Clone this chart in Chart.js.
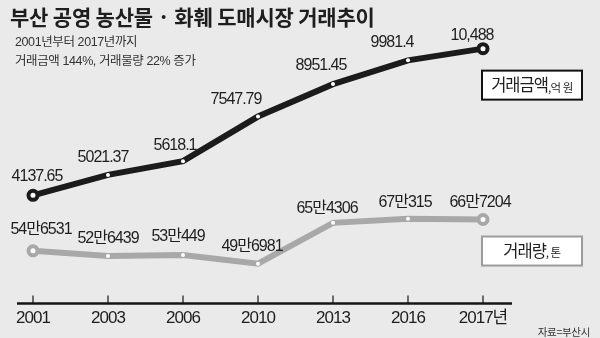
<!DOCTYPE html>
<html>
<head>
<meta charset="utf-8">
<script src="https://cdn.jsdelivr.net/npm/chart.js@4"></script>
<style>
  html, body { margin: 0; padding: 0; background: #eaeaea; }
  #wrap { position: relative; width: 600px; height: 338px; overflow: hidden; }
  #chart { position: absolute; left: 0; top: 0; }
  .title { position: absolute; left: 10px; top: 3px; font: bold 21px 'Noto Sans CJK KR', sans-serif; color: #1e1e1e; line-height: 26px; white-space: nowrap; letter-spacing: -0.2px; }
  .sub { position: absolute; left: 15px; top: 33px; font: 12.5px 'Liberation Sans', 'Noto Sans CJK KR', sans-serif; letter-spacing: -0.4px; color: #333; line-height: 18.5px; }
  .src { position: absolute; right: 10px; top: 324px; font: 10.5px 'Noto Sans CJK KR', sans-serif; color: #333; letter-spacing: -0.3px; }
</style>
</head>
<body>
<div id="wrap">
  <canvas id="chart" width="600" height="338"></canvas>
  <div class="title">부산 공영 농산물 · 화훼 도매시장 거래추이</div>
  <div class="sub">2001년부터 2017년까지<br>거래금액 144%, 거래물량 22% 증가</div>
  <div class="src">자료=부산시</div>
</div>
<script>
// years on the x axis
const years = ['2001', '2003', '2006', '2010', '2013', '2016', '2017년'];
// trade amount, 억 원
const amount = [4137.65, 5021.37, 5618.1, 7547.79, 8951.45, 9981.4, 10488];
// trade volume, 톤
const volume = [546531, 526439, 530449, 496981, 654306, 670315, 667204];

const legendNames = ['거래금액', '거래량'];
const legendUnits = [',억 원', ', 톤'];

// label nudges [dx, dy] per point
const amountNudge = [[4, -19], [-5, -17], [-8, -16], [-22, -17], [-12, -19], [-16, -18], [-11, -13]];
const volumeNudge = [[8, -21], [0, -17], [-5, -18], [-6, -17], [-6, -14], [-3, -16], [-3, -17]];

const labelFont = "16px 'Liberation Sans', 'Noto Sans CJK KR', sans-serif";

function fmtAmount(v) {
  return v >= 10000 ? v.toLocaleString('en-US') : String(v);
}
function fmtVolume(v) {
  return Math.floor(v / 10000) + '만' + (v % 10000);
}

const endRadius = c => (c.dataIndex === 0 || c.dataIndex === years.length - 1) ? 4.5 : 2;
const endBorder = c => (c.dataIndex === 0 || c.dataIndex === years.length - 1) ? 4 : 0;

// condensed look for the numbers
const tightText = {
  id: 'tightText',
  beforeDraw(chart) { chart.ctx.letterSpacing = '-1px'; },
  afterDraw(chart) { chart.ctx.letterSpacing = '0px'; }
};

// axis line with small ticks pointing up
const axisLine = {
  id: 'axisLine',
  afterDatasetsDraw(chart) {
    const ctx = chart.ctx;
    const x = chart.scales.x;
    const y = chart.chartArea.bottom;
    ctx.save();
    ctx.strokeStyle = '#151515';
    ctx.lineWidth = 2.5;
    ctx.beginPath();
    ctx.moveTo(x.left - 16, y);
    ctx.lineTo(x.right + 29, y);
    ctx.stroke();
    ctx.lineWidth = 1.2;
    years.forEach((yr, i) => {
      const px = x.getPixelForValue(i);
      ctx.beginPath();
      ctx.moveTo(px, y - 8);
      ctx.lineTo(px, y);
      ctx.stroke();
    });
    ctx.restore();
  }
};

// value labels above points + boxed legends near line ends
const valueLabels = {
  id: 'valueLabels',
  afterDatasetsDraw(chart) {
    const ctx = chart.ctx;
    ctx.save();
    ctx.font = labelFont;
    ctx.letterSpacing = '-1px';
    ctx.fillStyle = '#1e1e1e';
    ctx.textAlign = 'center';
    ctx.textBaseline = 'middle';
    const sets = [[amount, amountNudge, fmtAmount], [volume, volumeNudge, fmtVolume]];
    sets.forEach(([vals, nudge, fmt], di) => {
      const meta = chart.getDatasetMeta(di);
      meta.data.forEach((pt, i) => {
        ctx.fillText(fmt(vals[i]), pt.x + nudge[i][0], pt.y + nudge[i][1]);
      });
    });

    // legend boxes
    const boxDy = [22, 17];
    const boxCol = ['#111', '#9c9c9c'];
    [0, 1].forEach(di => {
      const meta = chart.getDatasetMeta(di);
      const last = meta.data[meta.data.length - 1];
      const bx = last.x - 1, by = last.y + boxDy[di], bw = 100, bh = 29;
      ctx.fillStyle = '#fff';
      ctx.fillRect(bx, by, bw, bh);
      ctx.strokeStyle = boxCol[di];
      ctx.lineWidth = 2;
      ctx.strokeRect(bx, by, bw, bh);
      ctx.fillStyle = '#1e1e1e';
      ctx.textAlign = 'left';
      ctx.letterSpacing = '-1px';
      ctx.font = "16.5px 'Noto Sans CJK KR', sans-serif";
      const w1 = ctx.measureText(legendNames[di]).width;
      ctx.letterSpacing = '-0.5px';
      ctx.font = "11.5px 'Noto Sans CJK KR', sans-serif";
      const w2 = ctx.measureText(legendUnits[di]).width;
      const sx = bx + (bw - w1 - w2) / 2;
      ctx.letterSpacing = '-1px';
      ctx.font = "16.5px 'Noto Sans CJK KR', sans-serif";
      ctx.fillText(legendNames[di], sx, by + bh / 2);
      ctx.letterSpacing = '-0.5px';
      ctx.font = "11.5px 'Noto Sans CJK KR', sans-serif";
      ctx.fillText(legendUnits[di], sx + w1, by + bh / 2 + 2);
    });
    ctx.restore();
  }
};

const ctx = document.getElementById('chart').getContext('2d');
const myChart = new Chart(ctx, {
  type: 'line',
  data: {
    labels: years,
    datasets: [
      {
        label: '거래금액',
        data: amount,
        yAxisID: 'y',
        borderColor: '#1b1b1b',
        borderWidth: 6,
        pointRadius: endRadius,
        pointBorderWidth: endBorder,
        pointBackgroundColor: '#fff',
        pointBorderColor: '#1b1b1b',
        tension: 0
      },
      {
        label: '거래량',
        data: volume,
        yAxisID: 'y2',
        borderColor: '#a8a8a8',
        borderWidth: 6,
        pointRadius: endRadius,
        pointBorderWidth: endBorder,
        pointBackgroundColor: '#fff',
        pointBorderColor: '#a8a8a8',
        tension: 0
      }
    ]
  },
  options: {
    responsive: false,
    animation: false,
    layout: { padding: { left: 33, right: 117, top: 10, bottom: 4 } },
    plugins: {
      legend: { display: false },
      tooltip: { enabled: false }
    },
    scales: {
      x: {
        offset: false,
        grid: { display: false, drawTicks: false },
        border: { display: false },
        ticks: {
          padding: 5,
          color: '#1e1e1e',
          font: { family: "'Liberation Sans', 'Noto Sans CJK KR', sans-serif", size: 17 },
          maxRotation: 0,
          autoSkip: false
        }
      },
      y: { display: false, min: -549, max: 12160 },
      y2: { display: false, position: 'right', min: 342898, max: 1475400 }
    }
  },
  plugins: [tightText, axisLine, valueLabels]
});
</script>
</body>
</html>
